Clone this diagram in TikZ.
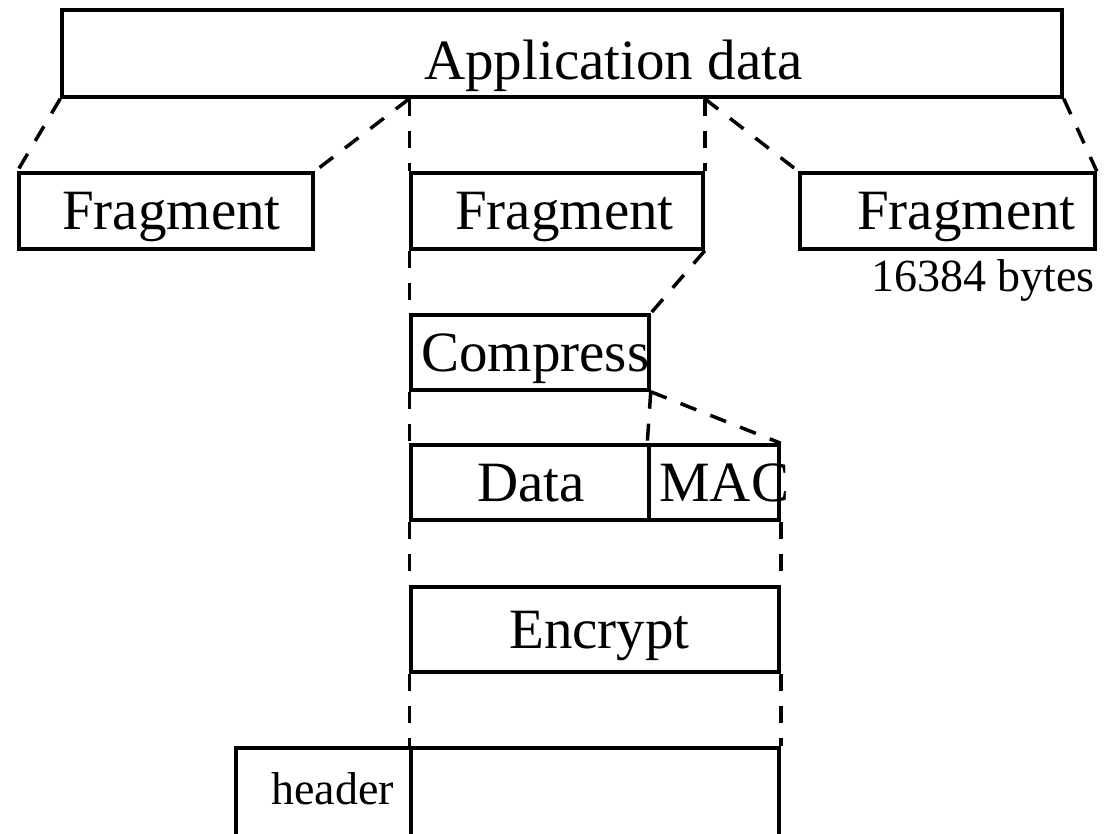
\documentclass[tikz,border=0pt]{standalone}
\usepackage{fontspec}
\setmainfont{Liberation Serif}
\tikzset{blk/.style={draw,line width=3.5pt,inner sep=0pt,minimum height=76pt},
  lbl/.style={inner sep=0pt,anchor=base west,font=\fontsize{57}{60}\selectfont},
  sml/.style={lbl,font=\fontsize{46}{50}\selectfont},
  cut/.style={line width=3.5pt,dash pattern=on 17pt off 15pt}}

\begin{document}
\begin{tikzpicture}[x=1pt,y=-1pt]
\useasboundingbox (0,0) rectangle (1106,834);
% record layers
\node[blk,minimum width=1000pt,minimum height=87pt] (app) at (562,53.5) {};
\node[blk,minimum width=294pt] (frag1) at (166,211) {};
\node[blk,minimum width=292pt] (frag2) at (557,211) {};
\node[blk,minimum width=295pt] (frag3) at (947.5,211) {};
\node[blk,minimum width=238pt,minimum height=75pt] (comp) at (530,352.5) {};
\node[blk,minimum width=238pt,minimum height=75pt] (data) at (530,482.5) {};
\node[blk,minimum width=130pt,minimum height=75pt] (mac) at (714,482.5) {};
\node[blk,minimum width=368pt,minimum height=85pt] (enc) at (595,629.5) {};
\node[blk,minimum width=175pt,minimum height=100pt] (hdr) at (323.5,798) {};
\node[blk,minimum width=368pt,minimum height=100pt] (body) at (595,798) {};
% labels
\node[lbl] (tApp) at (424,80) {Application data};
\node[lbl] (tFrag1) at (62,230) {Fragment};
\node[lbl] (tFrag2) at (455,230) {Fragment};
\node[lbl] (tFrag3) at (857,230) {Fragment};
\node[sml] (tBytes) at (871,292) {16384 bytes};
\node[lbl] (tComp) at (421,371) {Compress};
\node[lbl] (tData) at (477,501) {Data};
\node[lbl] (tMac) at (659,501) {MAC};
\node[lbl] (tEnc) at (509,648) {Encrypt};
\node[sml] (tHdr) at (271,804) {header};
% dashed guides
\draw[cut] (app.south west) -- (frag1.north west);
\draw[cut] (frag2.north west |- app.south) -- (frag1.north east);
\draw[cut] (frag2.north west |- app.south) -- (frag2.north west);
\draw[cut] (frag2.north east |- app.south) -- (frag2.north east);
\draw[cut] (frag2.north east |- app.south) -- (frag3.north west);
\draw[cut] (app.south east) -- (frag3.north east);
\draw[cut] (frag2.south west) -- (comp.north west);
\draw[cut] (frag2.south east) -- (comp.north east);
\draw[cut] (comp.south west) -- (data.north west);
\draw[cut] (comp.south east) -- (mac.north west);
\draw[cut] (comp.south east) -- (mac.north east);
\draw[cut] (data.south west) -- (enc.north west);
\draw[cut] (mac.south east) -- (enc.north east);
\draw[cut] (enc.south west) -- (body.north west);
\draw[cut] (enc.south east) -- (body.north east);
\end{tikzpicture}
\end{document}
